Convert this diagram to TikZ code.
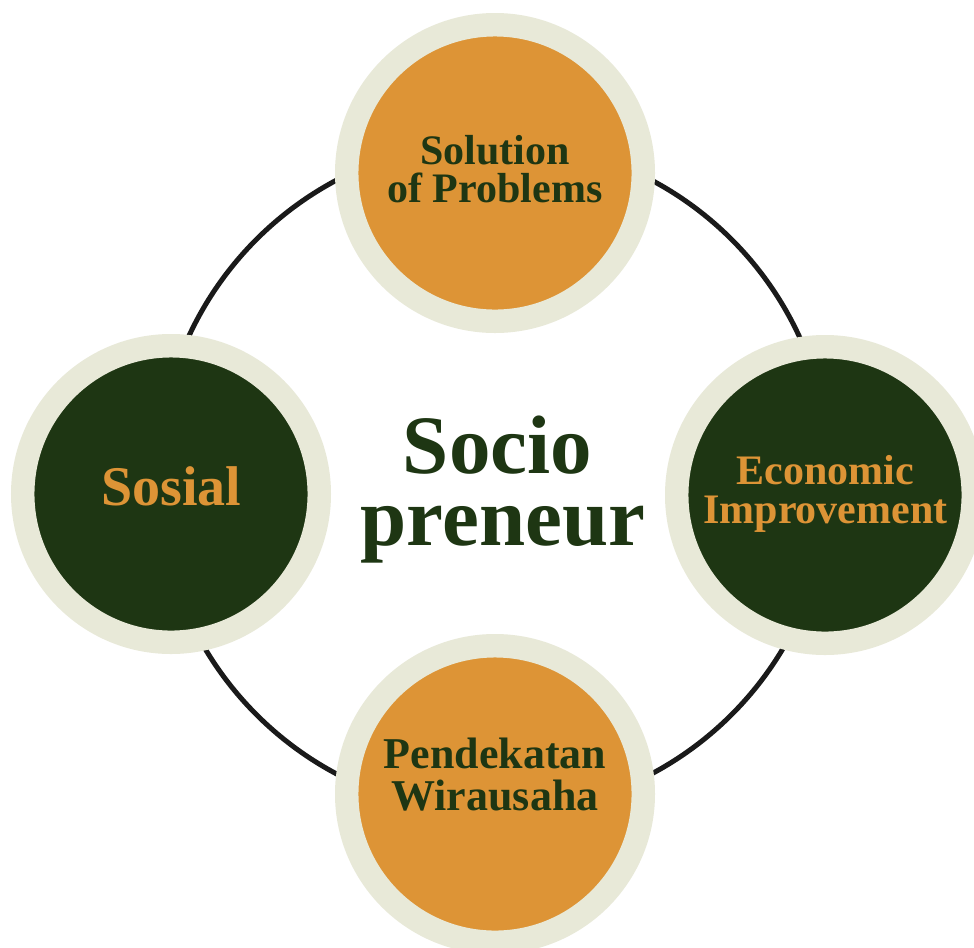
\documentclass[tikz,border=0pt]{standalone}
\usepackage{fontspec}
\setmainfont{Liberation Serif}
\usetikzlibrary{positioning}
\definecolor{darkgreen}{HTML}{1E3613}
\definecolor{ochre}{HTML}{DD9436}
\definecolor{cream}{HTML}{E8E9D8}
\definecolor{ringline}{HTML}{1A1A1A}
\tikzset{
  bubble/.style={circle,draw=cream,line width=17.6pt,minimum size=222.4pt,inner sep=0pt,outer sep=0pt},
  bubbletext/.style={font=\bfseries\fontsize{31.5}{28.5}\selectfont,align=center,inner sep=0pt},
  titletext/.style={font=\bfseries\fontsize{62.25}{54}\selectfont,text=darkgreen,inner sep=0pt,anchor=base}
}

\begin{document}
\begin{tikzpicture}[x=0.75pt,y=-0.75pt]
\useasboundingbox (0,0) rectangle (974,947);
\fill[white] (0,0) rectangle (974,947);
\coordinate (O) at (494,477);
\draw[ringline,line width=3.75pt] (O) circle[radius=252pt];
\node[bubble,fill=ochre] (sol) at (495,173) {};
\node[bubble,fill=darkgreen] (sos) at (171,494) {};
\node[bubble,fill=darkgreen] (eco) at (825,495) {};
\node[bubble,fill=ochre] (pen) at (495,794) {};
\node[bubbletext,text=darkgreen] (soltext) at (495,169) {Solution\\of Problems};
\node[bubbletext,text=ochre,font=\bfseries\fontsize{42}{42}\selectfont] (sostext) at (171.5,486) {Sosial};
\node[bubbletext,text=ochre,font=\bfseries\fontsize{31.5}{29.25}\selectfont] (ecotext) at (825.5,494) {Economic\\Improvement};
\node[bubbletext,text=darkgreen,font=\bfseries\fontsize{33}{31.5}\selectfont] (pentext) at (495,774.5) {Pendekatan\\Wirausaha};
\node[titletext] (socio) at (497.5,473) {Socio};
\node[titletext] (preneur) at (503,545) {preneur};
\end{tikzpicture}
\end{document}
